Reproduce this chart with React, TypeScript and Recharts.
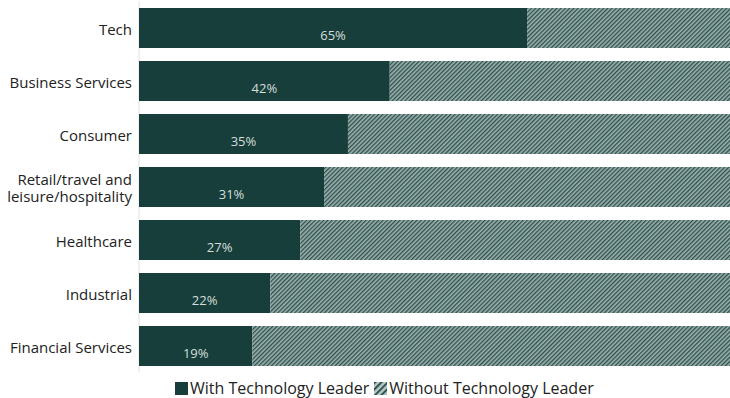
import React from 'react';
import { BarChart, Bar, XAxis, YAxis, CartesianGrid, LabelList } from 'recharts';

const categories = [
    'Tech',
    'Business Services',
    'Consumer',
    'Retail/travel and leisure/hospitality',
    'Healthcare',
    'Industrial',
    'Financial Services',
];
const withLeader = [65, 42, 35, 31, 27, 22, 19];
const xTicks = [0, 10, 20, 30, 40, 50, 60, 70, 80, 90, 100];

const data = categories.map((name, i) => ({
    name,
    withLeader: withLeader[i],
    withoutLeader: 100 - withLeader[i],
}));

const DARK = '#173e3a';
const FONT = '"Open Sans", "Noto Sans", sans-serif';

// greedy word wrap so long category names break onto two lines
const wrap = (s: string, max = 19) => {
    const lines: string[] = [];
    let cur = '';
    s.split(' ').forEach((w) => {
        const next = cur ? `${cur} ${w}` : w;
        if (next.length > max && cur) {
            lines.push(cur);
            cur = w;
        } else {
            cur = next;
        }
    });
    if (cur) lines.push(cur);
    return lines;
};

const CategoryTick = (props: any) => {
    const { x, y, payload } = props;
    const lines = wrap(payload.value);
    const lh = 17;
    const start = -((lines.length - 1) * lh) / 2 + 7;
    return (
        <text x={x + 1} y={y} textAnchor="end" fill="#222" fontSize={15} fontFamily={FONT}>
            {lines.map((l, i) => (
                <tspan key={i} x={x + 1} dy={i === 0 ? start : lh}>
                    {l}
                </tspan>
            ))}
        </text>
    );
};

const ValueLabel = (props: any) => {
    const { x, y, width, height, value } = props;
    return (
        <text
            x={x + width / 2}
            y={y + height - 8}
            textAnchor="middle"
            fill="#d5dedc"
            fontSize={13}
            fontFamily={FONT}
        >
            {`${value}%`}
        </text>
    );
};

export default function App() {
    return (
        <div style={{ position: 'absolute', left: 0, top: 0, width: 730, height: 398, overflow: 'hidden', background: '#fff' }}>
            <svg width={0} height={0} style={{ position: 'absolute' }}>
                <defs>
                    <pattern id="hatch" patternUnits="userSpaceOnUse" width={3} height={3} patternTransform="rotate(45)">
                        <rect width={3} height={3} fill="#9db1ae" />
                        <rect width={1.3} height={3} fill="#2a4f4b" />
                    </pattern>
                    <pattern id="hatchBig" patternUnits="userSpaceOnUse" width={4.5} height={4.5} patternTransform="rotate(45)">
                        <rect width={4.5} height={4.5} fill="#b9c8c6" />
                        <rect width={2} height={4.5} fill="#2a5550" />
                    </pattern>
                </defs>
            </svg>
            <BarChart
                width={740}
                height={398}
                data={data}
                layout="vertical"
                barSize={40}
                margin={{ top: 1, right: 4, left: 0, bottom: 26 }}
            >
                <CartesianGrid horizontal={false} stroke="#e2e2e2" />
                <XAxis
                    type="number"
                    domain={[0, 100]}
                    ticks={xTicks}
                    tick={false}
                    axisLine={false}
                    tickLine={false}
                    height={0}
                />
                <YAxis
                    type="category"
                    dataKey="name"
                    width={139}
                    axisLine={false}
                    tickLine={false}
                    tick={<CategoryTick />}
                    interval={0}
                />
                <Bar dataKey="withLeader" stackId="a" fill={DARK} isAnimationActive={false}>
                    <LabelList dataKey="withLeader" content={<ValueLabel />} />
                </Bar>
                <Bar dataKey="withoutLeader" stackId="a" fill="url(#hatch)" isAnimationActive={false} />
            </BarChart>
            <div
                style={{
                    position: 'absolute',
                    left: 175,
                    top: 379,
                    height: 18,
                    lineHeight: '18px',
                    display: 'flex',
                    alignItems: 'center',
                    fontFamily: FONT,
                    fontSize: 16,
                    color: '#222',
                    whiteSpace: 'nowrap',
                }}
            >
                <svg width={13} height={13} style={{ marginRight: 2 }}>
                    <rect width={13} height={13} fill={DARK} />
                </svg>
                <span style={{ marginRight: 5 }}>With Technology Leader</span>
                <svg width={13} height={13} style={{ marginRight: 2 }}>
                    <rect width={13} height={13} fill="url(#hatchBig)" />
                </svg>
                <span>Without Technology Leader</span>
            </div>
        </div>
    );
}
